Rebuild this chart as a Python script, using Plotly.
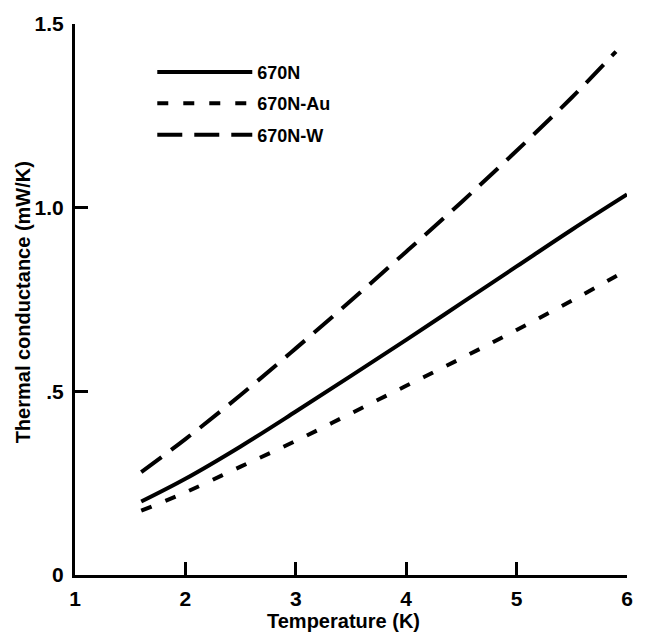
import plotly.graph_objects as go

temp_670N = [1.6, 2.0, 2.5, 3.0, 3.5, 4.0, 4.5, 5.0, 5.5, 6.0]
cond_670N = [0.20, 0.262, 0.35, 0.445, 0.542, 0.64, 0.74, 0.84, 0.94, 1.036]

temp_670N_Au = [1.6, 2.0, 2.5, 3.0, 3.5, 4.0, 4.5, 5.0, 5.5, 6.0]
cond_670N_Au = [0.175, 0.225, 0.295, 0.365, 0.44, 0.515, 0.59, 0.667, 0.747, 0.83]

temp_670N_W = [1.6, 2.0, 2.5, 3.0, 3.5, 4.0, 4.5, 5.0, 5.5, 5.9]
cond_670N_W = [0.28, 0.37, 0.49, 0.617, 0.747, 0.88, 1.015, 1.155, 1.30, 1.425]

x_ticks = [1, 2, 3, 4, 5, 6]
x_tick_labels = ["1", "2", "3", "4", "5", "6"]
y_ticks = [0, 0.5, 1.0, 1.5]
y_tick_labels = ["0", ".5", "1.0", "1.5"]

FONT = "Liberation Sans"

fig = go.Figure()
fig.add_trace(go.Scatter(x=temp_670N, y=cond_670N, mode="lines", name="670N",
                         legendgroup="a",
                         line=dict(color="black", width=4, shape="spline")))
fig.add_trace(go.Scatter(x=temp_670N_Au, y=cond_670N_Au, mode="lines", name="670N-Au",
                         legendgroup="b",
                         line=dict(color="black", width=4, dash="11px,15px", shape="spline")))
fig.add_trace(go.Scatter(x=temp_670N_W, y=cond_670N_W, mode="lines", name="670N-W",
                         legendgroup="c",
                         line=dict(color="black", width=4, dash="25px,12px", shape="spline")))

fig.update_layout(
    width=645, height=639,
    margin=dict(l=75, r=12, t=20, b=64),
    paper_bgcolor="white", plot_bgcolor="white",
    font=dict(family=FONT, color="black", size=18, weight="bold"),
    showlegend=True,
    legend=dict(x=0.14, y=0.946, xanchor="left", yanchor="top",
                bgcolor="rgba(0,0,0,0)", itemwidth=95,
                font=dict(family=FONT, size=18, weight="bold"),
                tracegroupgap=5),
    xaxis=dict(range=[1, 6], tickvals=x_ticks, ticktext=x_tick_labels,
               ticks="inside", ticklen=13, tickwidth=2.5, tickcolor="black",
               showline=True, linecolor="black", linewidth=3,
               showgrid=False, zeroline=False, ticklabelstandoff=3,
               tickfont=dict(family=FONT, size=21, weight="bold")),
    yaxis=dict(range=[0, 1.5], tickvals=y_ticks, ticktext=y_tick_labels,
               ticks="inside", ticklen=13, tickwidth=2.5, tickcolor="black",
               showline=True, linecolor="black", linewidth=3,
               showgrid=False, zeroline=False, ticklabelstandoff=4,
               tickfont=dict(family=FONT, size=21, weight="bold")),
    annotations=[
        dict(text="Temperature (K)", xref="paper", yref="paper", x=0.487, y=-0.083,
             xanchor="center", yanchor="middle", showarrow=False,
             font=dict(family=FONT, size=20, weight="bold")),
        dict(text="Thermal conductance (mW/K)", xref="paper", yref="paper", x=-0.095, y=0.494,
             xanchor="center", yanchor="middle", textangle=-90, showarrow=False,
             font=dict(family=FONT, size=20, weight="bold")),
    ],
)

fig.write_html("out.html")
